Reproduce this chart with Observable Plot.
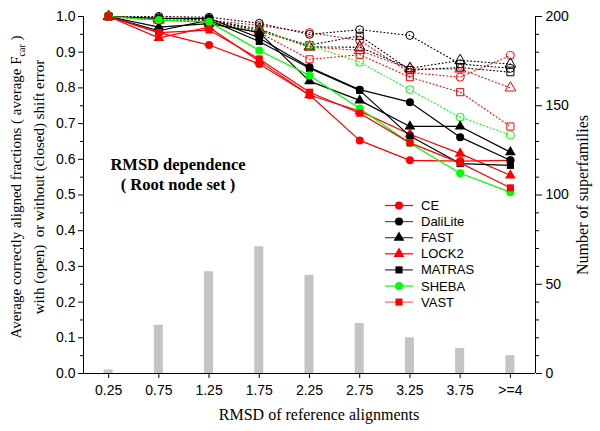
<!DOCTYPE html>
<html><head><meta charset="utf-8">
<script src="https://cdn.jsdelivr.net/npm/d3@7"></script>
<script src="https://cdn.jsdelivr.net/npm/@observablehq/plot@0.6"></script>
<style>
body{margin:0;background:#fff}
#chart{position:relative;width:600px;height:431px}
</style></head><body><div id="chart"></div>
<script>
// ---- data ----
const categories = ["0.25","0.75","1.25","1.75","2.25","2.75","3.25","3.75",">=4"];
const rmsd = [0.25,0.75,1.25,1.75,2.25,2.75,3.25,3.75,4.25];
const superfamilies = [2,27,57,71,55,28,20,14,10];
const methods = ["CE","DaliLite","FAST","LOCK2","MATRAS","SHEBA","VAST"];
const methodColors = ["#ff0000","#000000","#000000","#ff0000","#000000","#00ff00","#ff0000"];
const legendLineColors = ["#ff0000","#555555","#444444","#ff0000","#333333","#00ff00","#ff6060"];
const methodSymbols = ["circle","circle","triangle","triangle","square","circle","square"];

const closedCE     = [1.0, 0.955, 0.92, 0.867, 0.78, 0.653, 0.597, 0.595, 0.597];
const closedDali   = [1.0, 0.995, 0.995, 0.94, 0.858, 0.795, 0.76, 0.662, 0.597];
const closedFAST   = [1.0, 0.97, 0.98, 0.955, 0.819, 0.765, 0.692, 0.692, 0.62];
const closedLOCK2  = [1.0, 0.94, 0.97, 0.875, 0.78, 0.735, 0.67, 0.616, 0.555];
const closedMATRAS = [1.0, 0.96, 0.99, 0.93, 0.855, 0.793, 0.665, 0.588, 0.583];
const closedSHEBA  = [1.0, 0.99, 0.985, 0.905, 0.835, 0.742, 0.645, 0.561, 0.508];
const closedVAST   = [1.0, 0.955, 0.962, 0.881, 0.788, 0.729, 0.646, 0.59, 0.52];

const openCE     = [1.0, 0.99, 0.99, 0.975, 0.955, 0.933, 0.843, 0.83, 0.891];
const openDali   = [1.0, 1.0, 0.998, 0.981, 0.95, 0.963, 0.947, 0.867, 0.855];
const openFAST   = [1.0, 0.995, 0.99, 0.965, 0.915, 0.914, 0.855, 0.877, 0.867];
const openLOCK2  = [1.0, 0.99, 0.985, 0.96, 0.915, 0.905, 0.853, 0.853, 0.80];
const openMATRAS = [1.0, 0.995, 0.99, 0.96, 0.92, 0.946, 0.85, 0.857, 0.844];
const openSHEBA  = [1.0, 0.995, 0.985, 0.96, 0.92, 0.872, 0.795, 0.718, 0.668];
const openVAST   = [1.0, 0.99, 0.985, 0.955, 0.88, 0.893, 0.83, 0.788, 0.692];

const closedSeries = [closedCE, closedDali, closedFAST, closedLOCK2, closedMATRAS, closedSHEBA, closedVAST];
const openSeries = [openCE, openDali, openFAST, openLOCK2, openMATRAS, openSHEBA, openVAST];

// ---- build tables ----
const rowsOf = (vals) => vals.map((v, i) => ({x: rmsd[i], v}));
const bars = superfamilies.map((c, i) => ({x: rmsd[i], count: c}));
const barHalf = 0.045;
const R = 4;

const openMarks = [], closedMarks = [];
methods.forEach((m, k) => {
  const col = methodColors[k], sym = methodSymbols[k];
  const o = rowsOf(openSeries[k]);
  const c = rowsOf(closedSeries[k]);
  openMarks.push(Plot.line(o, {x: "x", y: "v", stroke: col, strokeWidth: 1.1, strokeDasharray: "1,2.6"}));
  openMarks.push(Plot.dot(o, {x: "x", y: "v", stroke: col, fill: "none", symbol: sym, r: R, strokeWidth: 1}));
  closedMarks.push(Plot.line(c, {x: "x", y: "v", stroke: col, strokeWidth: 1.2}));
  closedMarks.push(Plot.dot(c, {x: "x", y: "v", fill: col, stroke: "none", symbol: sym, r: R}));
});

const chart = Plot.plot({
  width: 600, height: 431,
  marginLeft: 83, marginRight: 65, marginTop: 16, marginBottom: 58,
  style: {fontFamily: "'Liberation Sans', Arial, sans-serif", fontSize: "14px", background: "#fff", color: "#000"},
  x: {type: "linear", domain: [0, 4.5]},
  y: {domain: [0, 1]},
  marks: [
    Plot.rectY(bars, {x1: d => d.x - barHalf, x2: d => d.x + barHalf, y1: 0, y2: d => d.count / 200, fill: "#c4c4c4"}),
    ...openMarks,
    ...closedMarks,
    Plot.ruleX([0, 4.5], {stroke: "#000", strokeWidth: 1}),
    Plot.ruleY([0], {stroke: "#000", strokeWidth: 1}),
    Plot.axisX({ticks: rmsd, tickFormat: d => categories[rmsd.indexOf(d)], tickSize: 5, tickPadding: 7, fontSize: 14, label: null}),
    Plot.axisY({anchor: "left", ticks: d3.range(0, 11).map(i => i / 10), tickFormat: ".1f", tickSize: 5, tickPadding: 3, fontSize: 14, label: null}),
    Plot.axisY({anchor: "left", ticks: d3.range(0, 10).map(i => i / 10 + 0.05), tickSize: 3, tickFormat: () => "", label: null}),
    Plot.axisY({anchor: "right", ticks: [0, 0.25, 0.5, 0.75, 1], tickFormat: d => String(Math.round(d * 200)), tickSize: 6, tickPadding: 4, fontSize: 14, label: null}),
    Plot.axisY({anchor: "right", ticks: d3.range(0, 21).map(i => i / 20).filter(t => Math.round(t * 200) % 50 !== 0), tickSize: 3, tickFormat: () => "", label: null})
  ]
});

document.getElementById("chart").appendChild(chart);

// ---- titles & annotation ----
const svg = d3.select(chart);
const serif = "'Liberation Serif', 'Times New Roman', serif";

const t1 = svg.append("text").attr("transform", "translate(21,187) rotate(-90)")
  .attr("text-anchor", "middle").attr("font-family", serif).attr("font-size", 15).attr("fill", "#000");
t1.append("tspan").text("Average correctly aligned fractions ( average F");
t1.append("tspan").attr("font-size", 10).attr("dy", 4).text("car");
t1.append("tspan").attr("dy", -4).text(" )");

svg.append("text").attr("transform", "translate(44,187) rotate(-90)")
  .attr("text-anchor", "middle").attr("font-family", serif).attr("font-size", 15).attr("fill", "#000")
  .text("with (open)  or without (closed) shift error");

svg.append("text").attr("transform", "translate(588,195) rotate(-90)")
  .attr("text-anchor", "middle").attr("font-family", serif).attr("font-size", 16).attr("fill", "#000")
  .text("Number of superfamilies");

svg.append("text").attr("x", 319).attr("y", 420)
  .attr("text-anchor", "middle").attr("font-family", serif).attr("font-size", 16).attr("fill", "#000")
  .text("RMSD of reference alignments");

svg.append("text").attr("x", 178).attr("y", 170)
  .attr("text-anchor", "middle").attr("font-family", serif).attr("font-size", 16.5).attr("font-weight", "bold").attr("fill", "#000")
  .text("RMSD dependence");
svg.append("text").attr("x", 178).attr("y", 190)
  .attr("text-anchor", "middle").attr("font-family", serif).attr("font-size", 16.5).attr("font-weight", "bold").attr("fill", "#000")
  .text("( Root node set )");

// ---- legend ----
const symMap = {circle: d3.symbolCircle, triangle: d3.symbolTriangle, square: d3.symbolSquare};
const leg = svg.append("g").attr("transform", "translate(385,205.5)");
methods.forEach((m, k) => {
  const g = leg.append("g").attr("transform", `translate(0,${k * 16.1})`);
  g.append("line").attr("x1", 0).attr("x2", 28).attr("y1", 0).attr("y2", 0)
    .attr("stroke", legendLineColors[k]).attr("stroke-width", 1.2);
  g.append("path").attr("d", d3.symbol(symMap[methodSymbols[k]], Math.PI * R * R)())
    .attr("transform", "translate(14,0)").attr("fill", methodColors[k]);
  g.append("text").attr("x", 36).attr("y", 0).attr("dy", "0.35em")
    .attr("text-anchor", "start")
    .attr("font-family", "'Liberation Sans', Arial, sans-serif").attr("font-size", 13).attr("fill", "#000")
    .text(m);
});
</script>
</body></html>
